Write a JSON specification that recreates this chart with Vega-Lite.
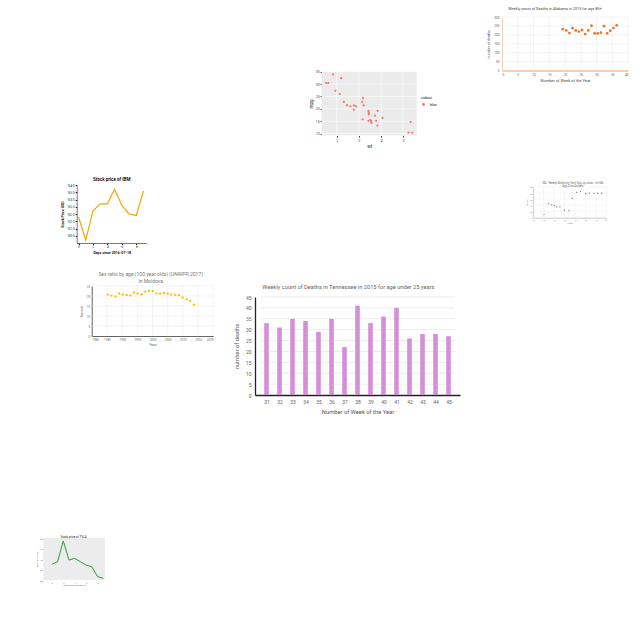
{
  "$schema": "https://vega.github.io/schema/vega-lite/v6.json",
  "width": 640,
  "height": 640,
  "autosize": "none",
  "padding": 0,
  "background": "white",
  "config": {
    "view": {"stroke": null},
    "axis": {"grid": false, "ticks": false, "labelFont": "Roboto", "titleFont": "Roboto", "titleFontWeight": "normal"},
    "text": {"font": "Roboto"}
  },
  "datasets": {
    "tn": [
      {"week": 31, "deaths": 33}, {"week": 32, "deaths": 31}, {"week": 33, "deaths": 35},
      {"week": 34, "deaths": 34}, {"week": 35, "deaths": 29}, {"week": 36, "deaths": 35},
      {"week": 37, "deaths": 22}, {"week": 38, "deaths": 41}, {"week": 39, "deaths": 33},
      {"week": 40, "deaths": 36}, {"week": 41, "deaths": 40}, {"week": 42, "deaths": 26},
      {"week": 43, "deaths": 28}, {"week": 44, "deaths": 28}, {"week": 45, "deaths": 27}
    ],
    "tngrid": [{"g": 5}, {"g": 10}, {"g": 15}, {"g": 20}, {"g": 25}, {"g": 30}, {"g": 35}, {"g": 40}, {"g": 45}],
    "al": [
      {"week": 19.3, "deaths": 232}, {"week": 20.4, "deaths": 225}, {"week": 21.4, "deaths": 210},
      {"week": 22.4, "deaths": 238}, {"week": 23.4, "deaths": 225}, {"week": 24.4, "deaths": 218},
      {"week": 25.4, "deaths": 227}, {"week": 26.4, "deaths": 204}, {"week": 27.4, "deaths": 225},
      {"week": 28.4, "deaths": 251}, {"week": 29.4, "deaths": 208}, {"week": 30.4, "deaths": 208},
      {"week": 31.4, "deaths": 212}, {"week": 32.4, "deaths": 248}, {"week": 33.4, "deaths": 208},
      {"week": 34.4, "deaths": 223}, {"week": 35.4, "deaths": 238}, {"week": 36.4, "deaths": 253}
    ],
    "algx": [{"v": 5}, {"v": 10}, {"v": 15}, {"v": 20}, {"v": 25}, {"v": 30}, {"v": 35}, {"v": 40}],
    "algy": [{"h": 50}, {"h": 100}, {"h": 150}, {"h": 200}, {"h": 250}, {"h": 300}],
    "mt": [
      {"wt": 2.62, "mpg": 21.0}, {"wt": 2.875, "mpg": 21.0}, {"wt": 2.32, "mpg": 22.8}, {"wt": 3.215, "mpg": 21.4},
      {"wt": 3.44, "mpg": 18.7}, {"wt": 3.46, "mpg": 18.1}, {"wt": 3.57, "mpg": 14.3}, {"wt": 3.19, "mpg": 24.4},
      {"wt": 3.15, "mpg": 22.8}, {"wt": 3.44, "mpg": 19.2}, {"wt": 3.44, "mpg": 17.8}, {"wt": 4.07, "mpg": 16.4},
      {"wt": 3.73, "mpg": 17.3}, {"wt": 3.78, "mpg": 15.2}, {"wt": 5.25, "mpg": 10.4}, {"wt": 5.424, "mpg": 10.4},
      {"wt": 5.345, "mpg": 14.7}, {"wt": 2.2, "mpg": 32.4}, {"wt": 1.615, "mpg": 30.4}, {"wt": 1.835, "mpg": 33.9},
      {"wt": 2.465, "mpg": 21.5}, {"wt": 3.52, "mpg": 15.5}, {"wt": 3.435, "mpg": 15.2}, {"wt": 3.84, "mpg": 13.3},
      {"wt": 3.845, "mpg": 19.2}, {"wt": 1.935, "mpg": 27.3}, {"wt": 2.14, "mpg": 26.0}, {"wt": 1.513, "mpg": 30.4},
      {"wt": 3.17, "mpg": 15.8}, {"wt": 2.77, "mpg": 19.7}, {"wt": 3.57, "mpg": 15.0}, {"wt": 2.78, "mpg": 21.4}
    ],
    "mtgx": [{"v": 2}, {"v": 3}, {"v": 4}, {"v": 5}],
    "mtgy": [{"h": 10}, {"h": 15}, {"h": 20}, {"h": 25}, {"h": 30}, {"h": 35}],
    "ibm": [
      {"day": 0, "price": 161.8}, {"day": 1, "price": 160.2}, {"day": 2, "price": 162.2}, {"day": 3, "price": 162.7},
      {"day": 4, "price": 162.7}, {"day": 5, "price": 163.7}, {"day": 6, "price": 162.6}, {"day": 7, "price": 162.0},
      {"day": 8, "price": 161.9}, {"day": 9, "price": 163.6}
    ],
    "ma": [
      {"x": 10.5, "y": 10}, {"x": 14.6, "y": 45}, {"x": 17.8, "y": 42}, {"x": 20.3, "y": 39}, {"x": 22.6, "y": 35},
      {"x": 25.7, "y": 35}, {"x": 29.8, "y": 24}, {"x": 34.3, "y": 23}, {"x": 37.4, "y": 63}, {"x": 41.6, "y": 82},
      {"x": 45.4, "y": 85}, {"x": 50.2, "y": 77}, {"x": 53.6, "y": 79}, {"x": 58.1, "y": 79}, {"x": 61.6, "y": 79},
      {"x": 65.4, "y": 79}
    ],
    "magx": [{"v": 0}, {"v": 10}, {"v": 20}, {"v": 30}, {"v": 40}, {"v": 50}, {"v": 60}, {"v": 70}],
    "magy": [{"h": 0}, {"h": 20}, {"h": 40}, {"h": 60}, {"h": 80}, {"h": 100}],
    "md": [
      {"year": 1985.3, "ratio": 20.7}, {"year": 1986.5, "ratio": 20.2}, {"year": 1987.8, "ratio": 19.7}, {"year": 1989.0, "ratio": 21.3},
      {"year": 1990.2, "ratio": 20.8}, {"year": 1991.5, "ratio": 20.5}, {"year": 1992.7, "ratio": 20.3}, {"year": 1993.9, "ratio": 21.8},
      {"year": 1995.1, "ratio": 21.3}, {"year": 1996.4, "ratio": 20.8}, {"year": 1997.6, "ratio": 22.2}, {"year": 1998.8, "ratio": 22.5},
      {"year": 2000.1, "ratio": 22.5}, {"year": 2001.3, "ratio": 21.3}, {"year": 2002.5, "ratio": 21.2}, {"year": 2003.8, "ratio": 21.5},
      {"year": 2005.0, "ratio": 21.2}, {"year": 2006.2, "ratio": 20.8}, {"year": 2007.5, "ratio": 20.5}, {"year": 2008.7, "ratio": 20.5},
      {"year": 2009.9, "ratio": 19.3}, {"year": 2011.2, "ratio": 18.3}, {"year": 2012.4, "ratio": 17.5}, {"year": 2013.6, "ratio": 15.7}
    ],
    "mdgx": [{"v": 1980}, {"v": 1985}, {"v": 1990}, {"v": 1995}, {"v": 2000}, {"v": 2005}, {"v": 2010}, {"v": 2015}, {"v": 2020}],
    "mdgy": [{"h": 5}, {"h": 10}, {"h": 15}, {"h": 20}, {"h": 25}],
    "gr": [
      {"day": 0, "price": 107.5}, {"day": 1, "price": 108.7}, {"day": 2, "price": 118.6}, {"day": 3, "price": 109.5},
      {"day": 4, "price": 110.3}, {"day": 5, "price": 108.7}, {"day": 6, "price": 107.1}, {"day": 7, "price": 106.3},
      {"day": 8, "price": 101.6}, {"day": 9, "price": 100.8}
    ]
  },
  "layer": [
    {
      "resolve": {"axis": {"x": "independent", "y": "independent"}},
      "layer": [
        {
          "data": {"name": "tngrid"},
          "mark": {"type": "rule", "color": "#e4e4e4", "strokeWidth": 0.7},
          "encoding": {
            "y": {"field": "g", "type": "quantitative", "axis": null},
            "x": {"datum": 30.5, "type": "quantitative", "axis": null},
            "x2": {"datum": 45.5}
          }
        },
        {
          "data": {"name": "tn"},
          "mark": {"type": "bar", "color": "#d48fd8", "size": 4.6},
          "encoding": {
            "x": {"field": "week", "type": "quantitative",
              "scale": {"domain": [30.5, 45.5], "range": [255, 460], "nice": false, "zero": false},
              "axis": {"orient": "bottom", "offset": -245, "values": [31,32,33,34,35,36,37,38,39,40,41,42,43,44,45], "format": "d",
                "labelFontSize": 5, "labelColor": "#666", "labelPadding": 4, "domainColor": "#222", "domainWidth": 1.3,
                "title": "Number of Week of the Year", "titleFontSize": 5.8, "titleColor": "#555", "titlePadding": 4}},
            "y": {"field": "deaths", "type": "quantitative",
              "scale": {"domain": [0, 45], "range": [395, 297], "nice": false},
              "axis": {"orient": "left", "offset": -255, "values": [0,5,10,15,20,25,30,35,40,45],
                "labelFontSize": 5, "labelColor": "#666", "labelPadding": 4, "domainColor": "#222", "domainWidth": 1.3,
                "title": "number of deaths", "titleFontSize": 5.8, "titleColor": "#555", "titlePadding": 6}}
          }
        },
        {
          "data": {"values": [{}]},
          "mark": {"type": "text", "fontSize": 5.7, "color": "#666", "align": "center", "baseline": "middle"},
          "encoding": {
            "x": {"datum": 37.3, "type": "quantitative", "axis": null},
            "y": {"datum": 49.6, "type": "quantitative", "axis": null},
            "text": {"value": "Weekly count of Deaths in Tennessee  in 2015 for age under 25 years"}
          }
        }
      ]
    },
    {
      "resolve": {"axis": {"x": "independent", "y": "independent"}},
      "layer": [
        {
          "data": {"name": "algx"},
          "mark": {"type": "rule", "color": "#e8e8e8", "strokeWidth": 0.5},
          "encoding": {
            "x": {"field": "v", "type": "quantitative", "axis": null},
            "y": {"datum": 0, "type": "quantitative", "axis": null},
            "y2": {"datum": 300}
          }
        },
        {
          "data": {"name": "algy"},
          "mark": {"type": "rule", "color": "#e8e8e8", "strokeWidth": 0.5},
          "encoding": {
            "y": {"field": "h", "type": "quantitative", "axis": null},
            "x": {"datum": 0, "type": "quantitative", "axis": null},
            "x2": {"datum": 40}
          }
        },
        {
          "data": {"name": "al"},
          "mark": {"type": "circle", "color": "#e67b2e", "size": 8, "opacity": 1},
          "encoding": {
            "x": {"field": "week", "type": "quantitative",
              "scale": {"domain": [0, 40], "range": [502, 628], "nice": false, "zero": false},
              "axis": {"orient": "bottom", "offset": -569.5, "values": [0,5,10,15,20,25,30,35,40],
                "labelFontSize": 3.2, "labelColor": "#666", "labelPadding": 2, "domainColor": "#f0a060", "domainWidth": 1,
                "title": "Number of Week of the Year", "titleFontSize": 4, "titleColor": "#444", "titlePadding": 3}},
            "y": {"field": "deaths", "type": "quantitative",
              "scale": {"domain": [0, 300], "range": [70.5, 17], "nice": false},
              "axis": {"orient": "left", "offset": -502, "values": [0,50,100,150,200,250,300],
                "labelFontSize": 3.2, "labelColor": "#666", "labelPadding": 3, "domainColor": "#f5c9a0", "domainWidth": 0.8,
                "title": "number of deaths", "titleFontSize": 3.6, "titleColor": "#444", "titlePadding": 3}}
          }
        },
        {
          "data": {"values": [{}]},
          "mark": {"type": "text", "fontSize": 3.8, "color": "#444", "align": "center", "baseline": "middle"},
          "encoding": {
            "x": {"datum": 16.8, "type": "quantitative", "axis": null},
            "y": {"datum": 345, "type": "quantitative", "axis": null},
            "text": {"value": "Weekly count of Deaths in Alabama in 2015 for age 85+"}
          }
        }
      ]
    },
    {
      "resolve": {"axis": {"x": "independent", "y": "independent"}},
      "layer": [
        {
          "data": {"values": [{}]},
          "mark": {"type": "rect", "color": "#ebebeb"},
          "encoding": {
            "x": {"datum": 1.317, "type": "quantitative", "axis": null},
            "x2": {"datum": 5.62},
            "y": {"datum": 9.225, "type": "quantitative", "axis": null},
            "y2": {"datum": 35.075}
          }
        },
        {
          "data": {"name": "mtgx"},
          "mark": {"type": "rule", "color": "white", "strokeWidth": 0.6},
          "encoding": {
            "x": {"field": "v", "type": "quantitative", "axis": null},
            "y": {"datum": 9.225, "type": "quantitative", "axis": null},
            "y2": {"datum": 35.075}
          }
        },
        {
          "data": {"name": "mtgy"},
          "mark": {"type": "rule", "color": "white", "strokeWidth": 0.6},
          "encoding": {
            "y": {"field": "h", "type": "quantitative", "axis": null},
            "x": {"datum": 1.317, "type": "quantitative", "axis": null},
            "x2": {"datum": 5.62}
          }
        },
        {
          "data": {"name": "mt"},
          "mark": {"type": "circle", "size": 5, "opacity": 1},
          "encoding": {
            "x": {"field": "wt", "type": "quantitative",
              "scale": {"domain": [1.317, 5.62], "range": [321.7, 416.7], "nice": false, "zero": false},
              "axis": {"orient": "bottom", "offset": -504.4, "values": [2,3,4,5], "ticks": true, "tickSize": 1.5, "tickColor": "#333",
                "domain": false, "labelFontSize": 3.6, "labelColor": "#4d4d4d", "labelPadding": 1,
                "title": "wt", "titleFontSize": 4.5, "titleColor": "#222", "titlePadding": 2}},
            "y": {"field": "mpg", "type": "quantitative",
              "scale": {"domain": [9.225, 35.075], "range": [135.6, 71.5], "nice": false, "zero": false},
              "axis": {"orient": "left", "offset": -321.7, "values": [10,15,20,25,30,35], "ticks": true, "tickSize": 1.5, "tickColor": "#333",
                "domain": false, "labelFontSize": 3.6, "labelColor": "#4d4d4d", "labelPadding": 1,
                "title": "mpg", "titleFontSize": 4.5, "titleColor": "#222", "titlePadding": 2}},
            "color": {"datum": "blue", "type": "nominal",
              "scale": {"domain": ["blue"], "range": ["#F8766D"]},
              "legend": {"orient": "none", "legendX": 421, "legendY": 96, "title": "colour", "titleFontSize": 4,
                "titleFontWeight": "normal", "labelFontSize": 3.5, "symbolSize": 8, "titlePadding": 2, "symbolType": "circle"}}
          }
        }
      ]
    },
    {
      "resolve": {"axis": {"x": "independent", "y": "independent"}},
      "layer": [
        {
          "data": {"name": "ibm"},
          "mark": {"type": "line", "color": "#f0a800", "strokeWidth": 1.2},
          "encoding": {
            "x": {"field": "day", "type": "quantitative",
              "scale": {"domain": [-0.25, 9.45], "range": [76.7, 146.7], "nice": false, "zero": false},
              "axis": {"orient": "bottom", "offset": -397, "values": [0,2,4,6,8], "ticks": true, "tickSize": 1.5, "tickColor": "#222",
                "domainColor": "#222", "domainWidth": 0.6, "labelFontSize": 3, "labelColor": "#222", "labelPadding": 1,
                "title": "Days since 2016-07-18", "titleFontSize": 3.6, "titleFontWeight": "bold", "titleColor": "#111", "titlePadding": 2}},
            "y": {"field": "price", "type": "quantitative",
              "scale": {"domain": [160, 164], "range": [243, 185], "nice": false, "zero": false},
              "axis": {"orient": "left", "offset": -76.7, "values": [160.5,161,161.5,162,162.5,163,163.5,164], "format": ".1f", "ticks": true, "tickSize": 1.5, "tickColor": "#222",
                "domainColor": "#222", "domainWidth": 0.6, "labelFontSize": 3, "labelColor": "#222", "labelPadding": 1,
                "title": "Stock Price USD", "titleFontSize": 3.6, "titleFontWeight": "bold", "titleColor": "#111", "titlePadding": 2}}
          }
        },
        {
          "data": {"values": [{}]},
          "mark": {"type": "text", "fontSize": 4.5, "fontWeight": "bold", "color": "#111", "align": "center", "baseline": "middle"},
          "encoding": {
            "x": {"datum": 4.6, "type": "quantitative", "axis": null},
            "y": {"datum": 164.34, "type": "quantitative", "axis": null},
            "text": {"value": "Stock price of IBM"}
          }
        }
      ]
    },
    {
      "resolve": {"axis": {"x": "independent", "y": "independent"}},
      "layer": [
        {
          "data": {"name": "magx"},
          "mark": {"type": "rule", "color": "#ececec", "strokeWidth": 0.4},
          "encoding": {
            "x": {"field": "v", "type": "quantitative", "axis": null},
            "y": {"datum": 0, "type": "quantitative", "axis": null},
            "y2": {"datum": 100}
          }
        },
        {
          "data": {"name": "magy"},
          "mark": {"type": "rule", "color": "#ececec", "strokeWidth": 0.4},
          "encoding": {
            "y": {"field": "h", "type": "quantitative", "axis": null},
            "x": {"datum": 0, "type": "quantitative", "axis": null},
            "x2": {"datum": 70}
          }
        },
        {
          "data": {"name": "ma"},
          "mark": {"type": "circle", "color": "#7a8590", "size": 2, "opacity": 1},
          "encoding": {
            "x": {"field": "x", "type": "quantitative",
              "scale": {"domain": [0, 70], "range": [533, 606.5], "nice": false, "zero": false},
              "axis": {"orient": "bottom", "offset": -422.3, "values": [0,10,20,30,40,50,60,70],
                "domainColor": "#ccc", "labelFontSize": 2, "labelColor": "#888", "labelPadding": 1,
                "title": "Week", "titleFontSize": 2.2, "titleColor": "#888", "titlePadding": 1}},
            "y": {"field": "y", "type": "quantitative",
              "scale": {"domain": [0, 100], "range": [217.7, 186.7], "nice": false},
              "axis": {"orient": "left", "offset": -533, "values": [0,20,40,60,80,100],
                "domainColor": "#ccc", "labelFontSize": 2, "labelColor": "#888", "labelPadding": 1,
                "title": "Deaths", "titleFontSize": 2.2, "titleColor": "#888", "titlePadding": 1}}
          }
        },
        {
          "data": {"values": [{}]},
          "mark": {"type": "text", "fontSize": 2.6, "color": "#666", "align": "center", "baseline": "middle", "lineHeight": 3.2},
          "encoding": {
            "x": {"datum": 38, "type": "quantitative", "axis": null},
            "y": {"datum": 112, "type": "quantitative", "axis": null},
            "text": {"value": ["MA - Weekly Deaths for Tech, Dog, up Junior - for MA", "Age 30 to 4 others"]}
          }
        }
      ]
    },
    {
      "resolve": {"axis": {"x": "independent", "y": "independent"}},
      "layer": [
        {
          "data": {"name": "mdgx"},
          "mark": {"type": "rule", "color": "#e6e6e6", "strokeWidth": 0.5},
          "encoding": {
            "x": {"field": "v", "type": "quantitative", "axis": null},
            "y": {"datum": 0, "type": "quantitative", "axis": null},
            "y2": {"datum": 25}
          }
        },
        {
          "data": {"name": "mdgy"},
          "mark": {"type": "rule", "color": "#e6e6e6", "strokeWidth": 0.5},
          "encoding": {
            "y": {"field": "h", "type": "quantitative", "axis": null},
            "x": {"datum": 1980, "type": "quantitative", "axis": null},
            "x2": {"datum": 2020}
          }
        },
        {
          "data": {"name": "md"},
          "mark": {"type": "circle", "color": "#f5c518", "size": 6, "opacity": 1},
          "encoding": {
            "x": {"field": "year", "type": "quantitative",
              "scale": {"domain": [1980, 2020], "range": [91.7, 213.3], "nice": false, "zero": false},
              "axis": {"orient": "bottom", "offset": -304, "values": [1980,1985,1990,1995,2000,2005,2010,2015,2020], "format": "d",
                "domainColor": "#666", "domainWidth": 1.2, "labelFontSize": 3, "labelColor": "#666", "labelPadding": 2,
                "title": "Years", "titleFontSize": 3, "titleColor": "#666", "titlePadding": 2}},
            "y": {"field": "ratio", "type": "quantitative",
              "scale": {"domain": [0, 25], "range": [336, 286], "nice": false},
              "axis": {"orient": "left", "offset": -91.7, "values": [0,5,10,15,20,25],
                "domainColor": "#666", "domainWidth": 1.2, "labelFontSize": 3, "labelColor": "#666", "labelPadding": 2,
                "title": "Sex ratio", "titleFontSize": 3, "titleColor": "#666", "titlePadding": 3}}
          }
        },
        {
          "data": {"values": [{}]},
          "mark": {"type": "text", "fontSize": 5, "color": "#777", "align": "center", "baseline": "middle", "lineHeight": 7.5},
          "encoding": {
            "x": {"datum": 1999.4, "type": "quantitative", "axis": null},
            "y": {"datum": 31.2, "type": "quantitative", "axis": null},
            "text": {"value": ["Sex ratio by age (100 year olds) (UNWPP, 2017)", "in Moldova"]}
          }
        }
      ]
    },
    {
      "resolve": {"axis": {"x": "independent", "y": "independent"}},
      "layer": [
        {
          "data": {"values": [{}]},
          "mark": {"type": "rect", "color": "#ececec"},
          "encoding": {
            "x": {"datum": -1.5, "type": "quantitative", "axis": null},
            "x2": {"datum": 9.3},
            "y": {"datum": 100, "type": "quantitative", "axis": null},
            "y2": {"datum": 120}
          }
        },
        {
          "data": {"name": "gr"},
          "mark": {"type": "line", "color": "#2e9a3a", "strokeWidth": 1},
          "encoding": {
            "x": {"field": "day", "type": "quantitative",
              "scale": {"domain": [-1.5, 9.3], "range": [43.3, 105], "nice": false, "zero": false},
              "axis": {"orient": "bottom", "offset": -60, "values": [0,2,4,6,8], "domain": false,
                "labelFontSize": 2, "labelColor": "#666", "labelPadding": 1,
                "title": "Days since 2016-07-18", "titleFontSize": 2.2, "titleColor": "#555", "titlePadding": 1}},
            "y": {"field": "price", "type": "quantitative",
              "scale": {"domain": [100, 120], "range": [580, 538], "nice": false, "zero": false},
              "axis": {"orient": "left", "offset": -43.3, "values": [100,105,110,115,120], "domain": false,
                "labelFontSize": 2, "labelColor": "#666", "labelPadding": 1,
                "title": "Stock Price USD", "titleFontSize": 2.2, "titleColor": "#555", "titlePadding": 1}}
          }
        },
        {
          "data": {"values": [{}]},
          "mark": {"type": "text", "fontSize": 3, "color": "#222", "align": "center", "baseline": "middle"},
          "encoding": {
            "x": {"datum": 3.8, "type": "quantitative", "axis": null},
            "y": {"datum": 120.4, "type": "quantitative", "axis": null},
            "text": {"value": "Stock price of TSLA"}
          }
        }
      ]
    }
  ],
  "resolve": {
    "scale": {"x": "independent", "y": "independent", "color": "independent"},
    "axis": {"x": "independent", "y": "independent"}
  }
}
